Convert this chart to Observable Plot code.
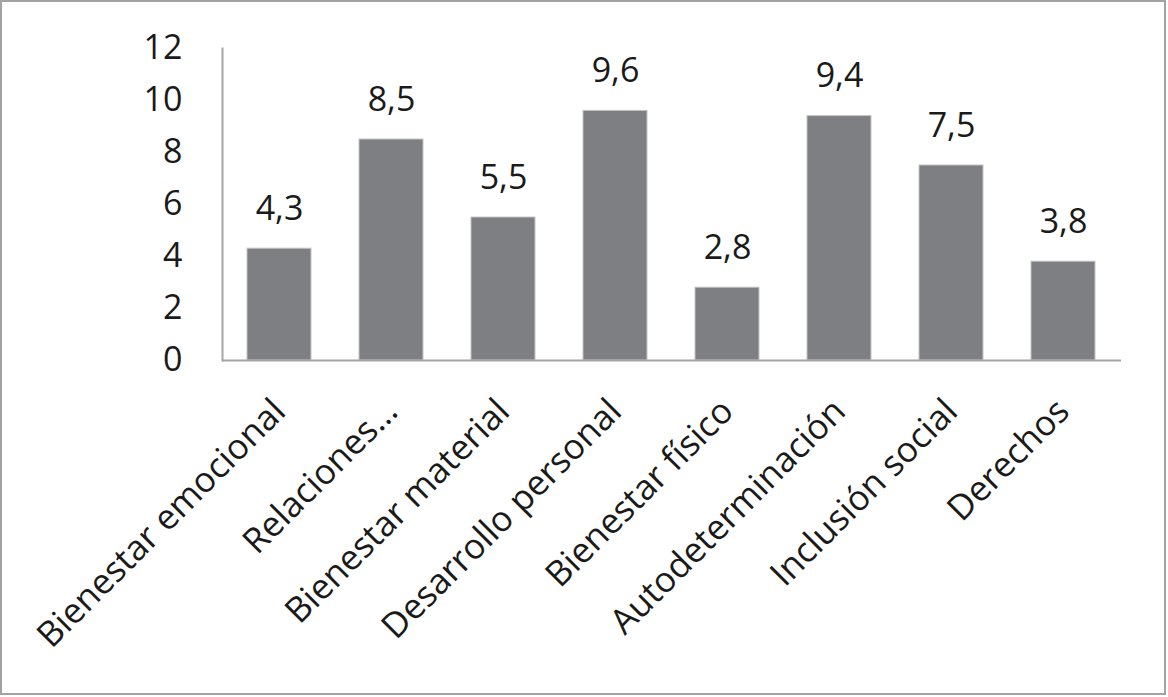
<!DOCTYPE html>
<html>
<head>
<meta charset="utf-8">
<script src="https://cdn.jsdelivr.net/npm/d3@7"></script>
<script src="https://cdn.jsdelivr.net/npm/@observablehq/plot@0.6"></script>
<style>
  html, body { margin: 0; padding: 0; background: #fff; }
  #wrap { position: relative; width: 1168px; height: 697px; overflow: hidden; }
  #wrap svg { position: absolute; left: 0; top: 0; }
  #border { position: absolute; left: 0; top: 0; width: 1166px; height: 695px; box-sizing: border-box; border: 2.5px solid #a3a3a3; pointer-events: none; }
</style>
</head>
<body>
<div id="wrap"><div id="border"></div></div>
<script>
const categories = ["Bienestar emocional", "Relaciones…", "Bienestar material", "Desarrollo personal", "Bienestar físico", "Autodeterminación", "Inclusión social", "Derechos"];
const values = [4.3, 8.5, 5.5, 9.6, 2.8, 9.4, 7.5, 3.8];
const yTicks = [0, 2, 4, 6, 8, 10, 12];

const data = categories.map((c, i) => ({category: c, value: values[i]}));
const fmt = v => v.toFixed(1).replace(".", ",");

const chart = Plot.plot({
  width: 1168,
  height: 697,
  marginTop: 48,
  marginBottom: 337,
  marginLeft: 222,
  marginRight: 47,
  style: {fontFamily: "'Open Sans', sans-serif", fontSize: "34px", color: "#1a1a1a", background: "transparent"},
  x: {domain: categories, paddingInner: 0.425, paddingOuter: 0.2125, label: null},
  y: {domain: [0, 12], label: null},
  marks: [
    Plot.barY(data, {x: "category", y: "value", fill: "#7e7f83", stroke: "#c4c4c4", strokeWidth: 1}),
    Plot.text(data, {x: "category", y: "value", text: d => fmt(d.value), lineAnchor: "bottom", dy: -29, fontSize: 34, fill: "#1a1a1a"}),
    Plot.axisY({ticks: yTicks, tickSize: 0, tickPadding: 40, label: null, fontSize: 34, fill: "#1a1a1a"}),
    Plot.axisX({tickSize: 0, tickPadding: 45, tickRotate: -45, label: null, fontSize: 35, fill: "#1a1a1a"}),
    Plot.frame({anchor: "left", stroke: "#a6a6a6", strokeWidth: 2}),
    Plot.ruleY([0], {stroke: "#a6a6a6", strokeWidth: 2})
  ]
});
document.getElementById("wrap").prepend(chart);
</script>
</body>
</html>
